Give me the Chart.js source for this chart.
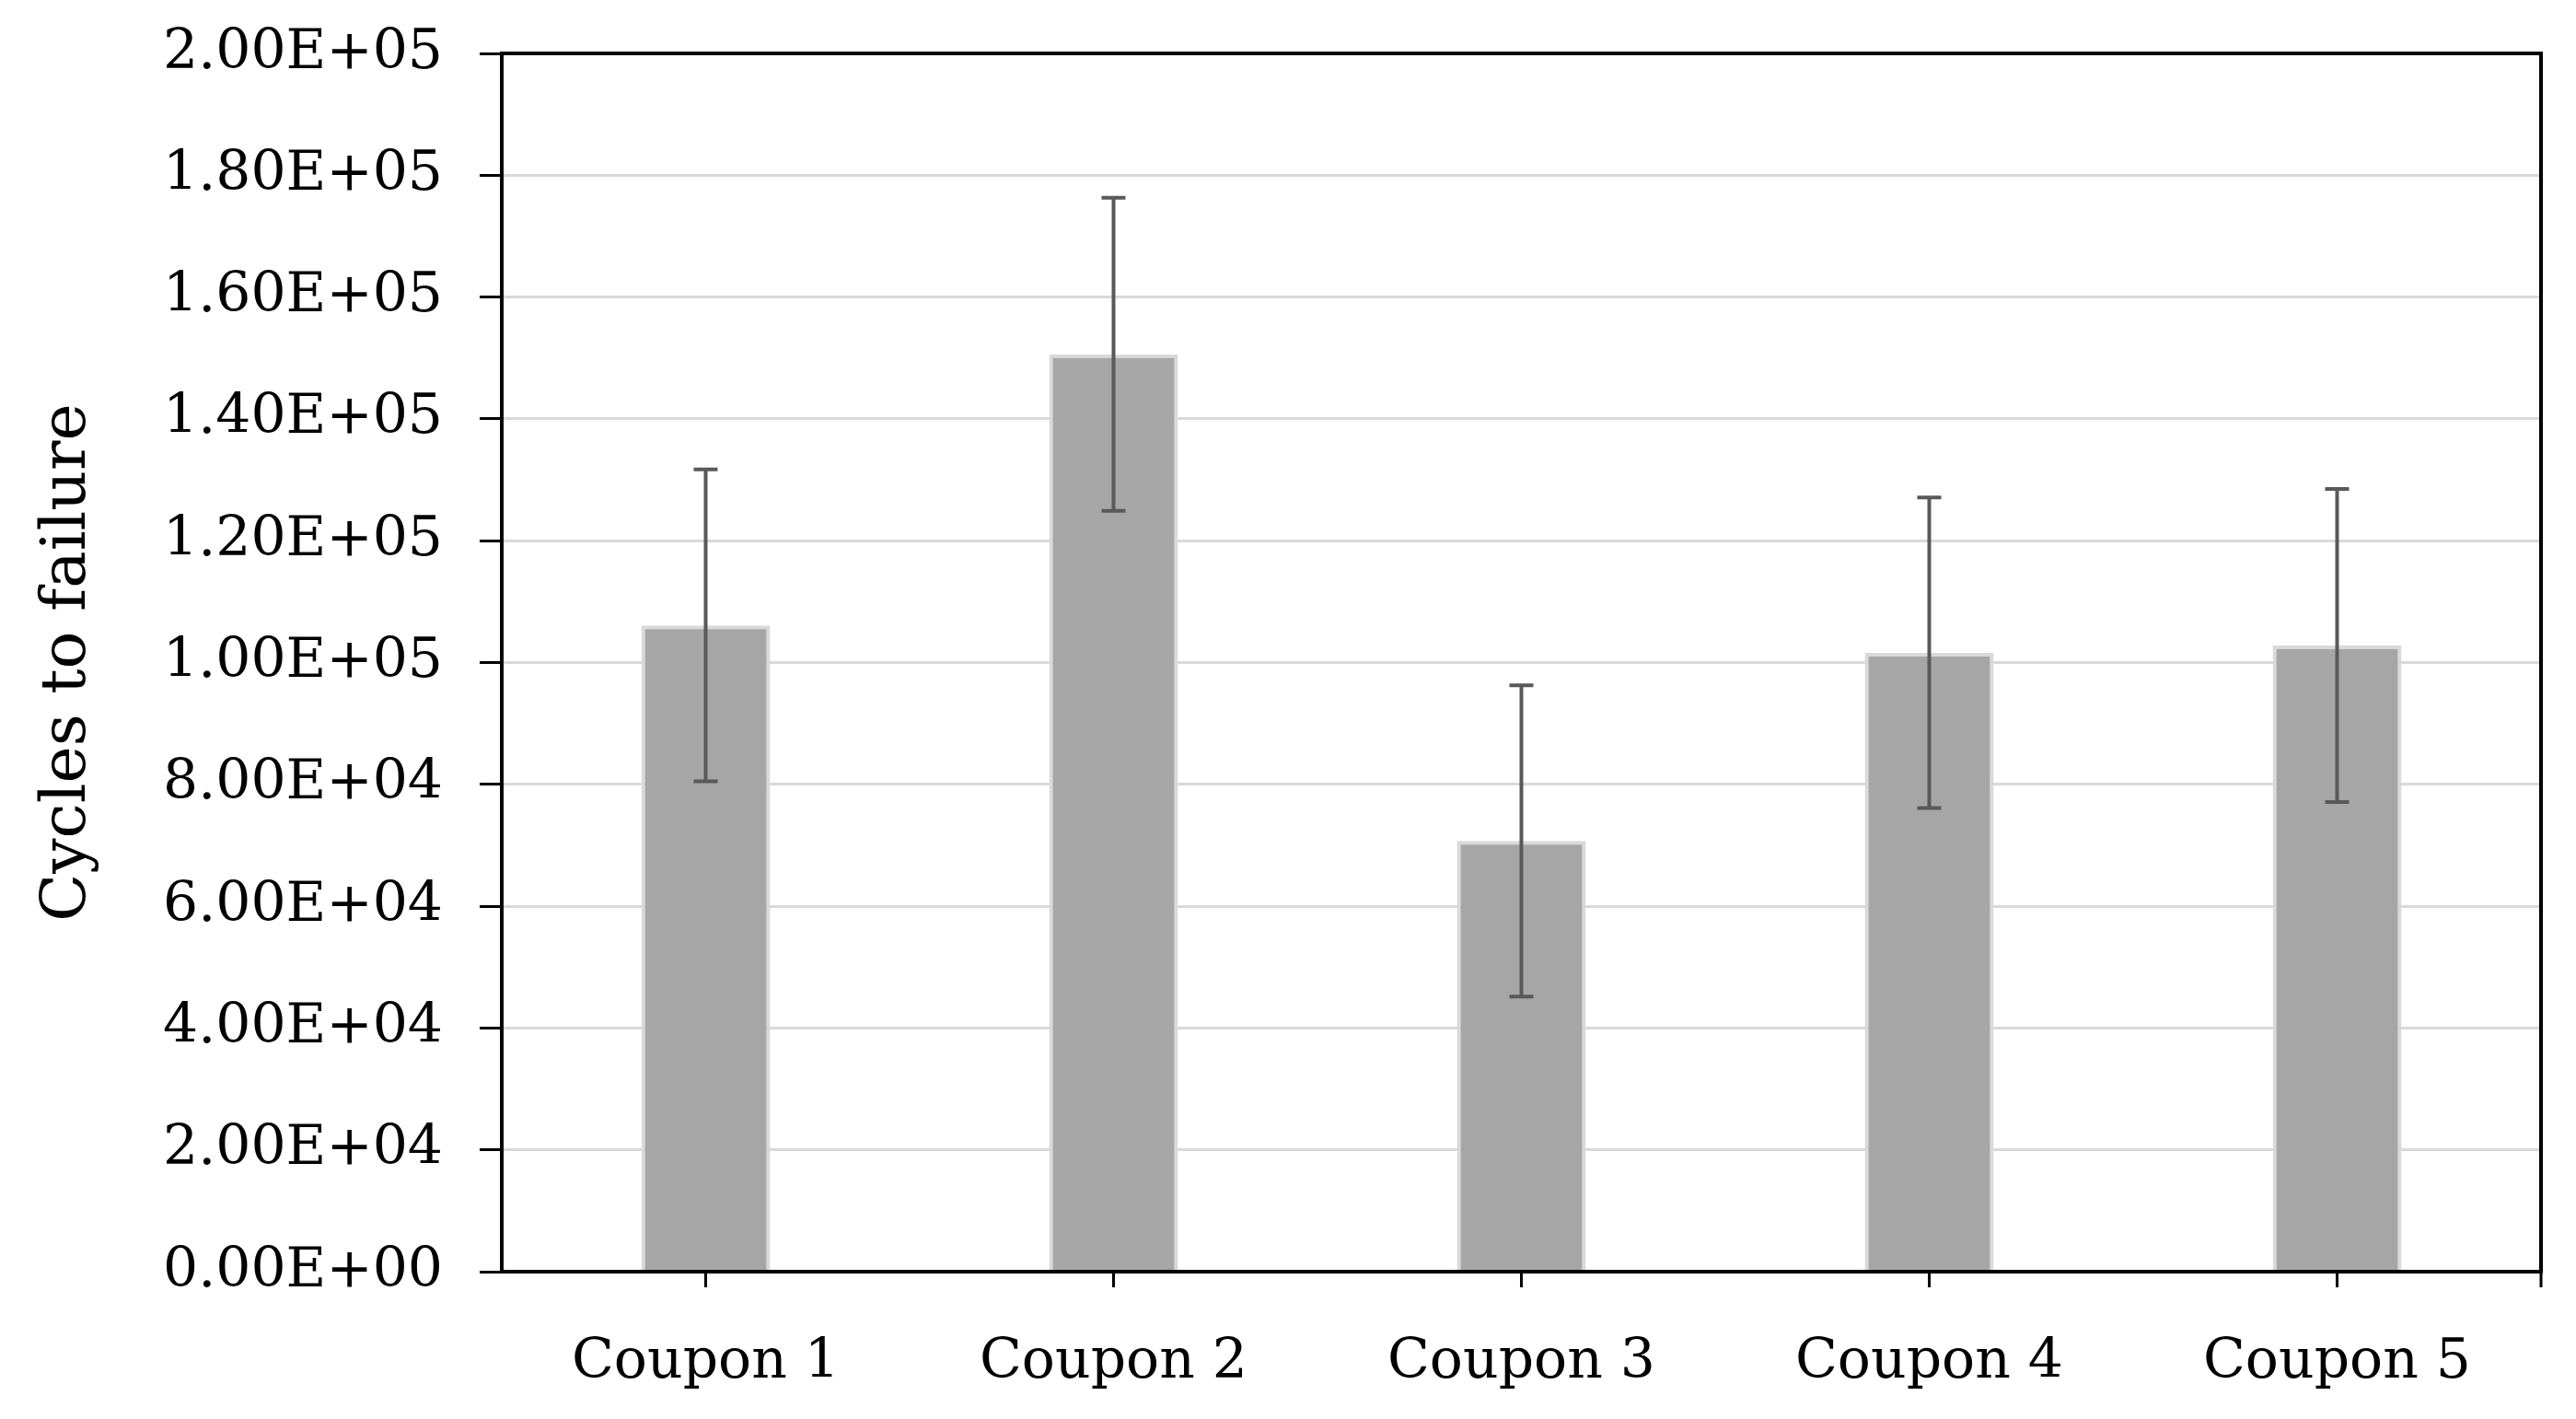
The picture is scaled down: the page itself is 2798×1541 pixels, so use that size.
<!DOCTYPE html>
<html>
<head>
<meta charset="utf-8">
<script src="https://cdn.jsdelivr.net/npm/chart.js@4/dist/chart.umd.min.js"></script>
<style>
  html, body { margin: 0; padding: 0; background: #fff; }
  canvas { display: block; }
</style>
</head>
<body>
<canvas id="c" width="2798" height="1541"></canvas>
<script>
// ---- Data ----
const categories = ['Coupon 1', 'Coupon 2', 'Coupon 3', 'Coupon 4', 'Coupon 5'];
const cycles = [106100, 150600, 70700, 101600, 102800];
const errors = [25600, 25700, 25550, 25500, 25700];
const yTickLabels = ['0.00E+00', '2.00E+04', '4.00E+04', '6.00E+04', '8.00E+04', '1.00E+05',
                     '1.20E+05', '1.40E+05', '1.60E+05', '1.80E+05', '2.00E+05'];
const yTitle = 'Cycles to failure';

const FONT = 'DejaVu Serif';
Chart.defaults.font.family = FONT;
Chart.defaults.color = '#000';

const errorBarPlugin = {
  id: 'errorBars',
  afterDatasetsDraw(chart) {
    const ctx = chart.ctx;
    const meta = chart.getDatasetMeta(0);
    const ys = chart.scales.y;
    ctx.save();
    ctx.strokeStyle = '#595959';
    ctx.lineWidth = 4;
    ctx.lineCap = 'butt';
    meta.data.forEach((bar, i) => {
      const x = bar.x;
      const yt = ys.getPixelForValue(cycles[i] + errors[i]);
      const yb = ys.getPixelForValue(cycles[i] - errors[i]);
      const cap = 13;
      ctx.beginPath();
      ctx.moveTo(x, yt); ctx.lineTo(x, yb);
      ctx.moveTo(x - cap, yt); ctx.lineTo(x + cap, yt);
      ctx.moveTo(x - cap, yb); ctx.lineTo(x + cap, yb);
      ctx.stroke();
    });
    ctx.restore();
  }
};

const framePlugin = {
  id: 'frame',
  afterDraw(chart) {
    const {ctx, chartArea: a} = chart;
    ctx.save();
    ctx.strokeStyle = '#000';
    ctx.lineWidth = 4;
    ctx.beginPath();
    ctx.rect(a.left, a.top, a.right - a.left, a.bottom - a.top);
    ctx.stroke();
    // small outer tick at the right end of the category axis
    ctx.lineWidth = 3;
    ctx.beginPath();
    ctx.moveTo(a.right, a.bottom);
    ctx.lineTo(a.right, a.bottom + 17);
    ctx.stroke();
    ctx.restore();
  }
};

new Chart(document.getElementById('c'), {
  type: 'bar',
  data: {
    labels: categories,
    datasets: [{
      data: cycles,
      backgroundColor: '#a6a6a6',
      borderColor: '#d9d9d9',
      borderWidth: 4,
      borderSkipped: 'start',
      categoryPercentage: 1,
      barPercentage: 0.316
    }]
  },
  options: {
    responsive: false,
    devicePixelRatio: 1,
    animation: false,
    layout: { padding: { top: 58, right: 38, bottom: 0, left: 0 } },
    plugins: { legend: { display: false }, tooltip: { enabled: false } },
    scales: {
      x: {
        offset: true,
        grid: { display: true, drawOnChartArea: false, offset: false, tickLength: 17, tickColor: '#000', tickWidth: 3 },
        border: { color: '#000', width: 4 },
        ticks: { font: { family: FONT, size: 60 }, color: '#000', padding: 46, maxRotation: 0, autoSkip: false },
        afterFit: s => { s.height = 160; s.paddingLeft = 0; s.paddingRight = 0; }
      },
      y: {
        min: 0, max: 200000,
        ticks: {
          stepSize: 20000,
          callback: (v, i) => yTickLabels[i],
          font: { family: FONT, size: 60 }, color: '#000', padding: 40
        },
        grid: { color: '#d9d9d9', lineWidth: 3, tickLength: 24, tickColor: '#000', tickWidth: 3 },
        border: { color: '#000', width: 4 },
        title: {
          display: true, text: yTitle, color: '#000',
          font: { family: FONT, size: 68, lineHeight: 1 },
          padding: { top: 40, bottom: 0 }
        },
        afterFit: s => { s.width = 545; s.paddingTop = 0; s.paddingBottom = 0; }
      }
    }
  },
  plugins: [errorBarPlugin, framePlugin]
});
</script>
</body>
</html>
